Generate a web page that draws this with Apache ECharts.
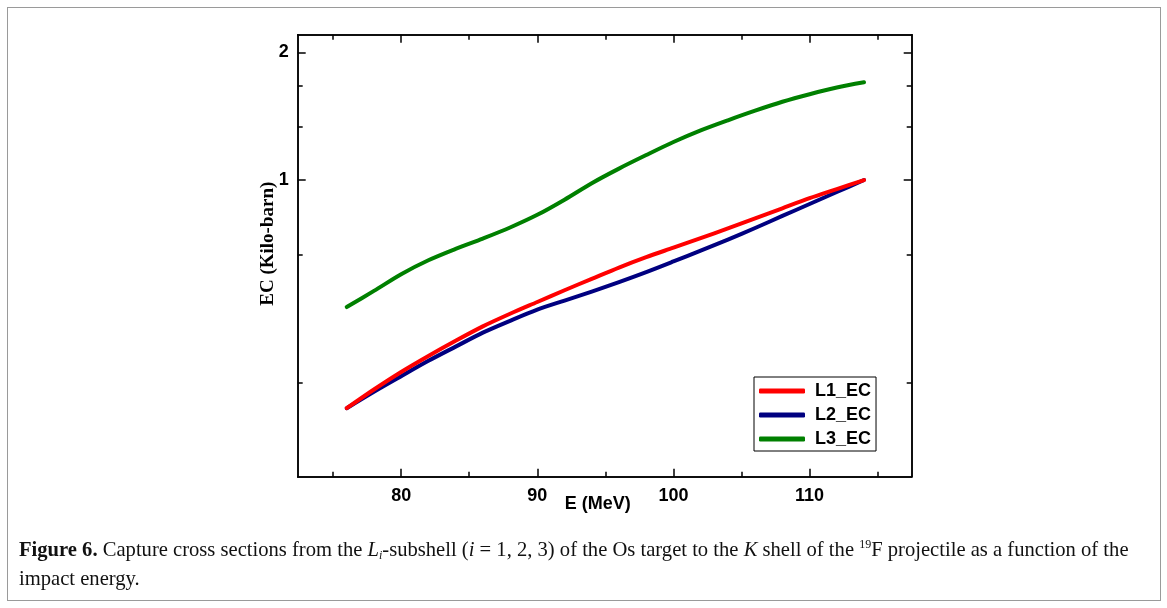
<!DOCTYPE html>
<html>
<head>
<meta charset="utf-8">
<script src="https://cdn.jsdelivr.net/npm/echarts@6.0.0/dist/echarts.min.js"></script>
<style>
    body { margin: 0; background: #fff; }
    #frame { position: absolute; left: 7px; top: 7px; width: 1152px; height: 592px; border: 1px solid #9a9a9a; }
    #chart { position: absolute; left: 0; top: 0; width: 1167px; height: 608px; }
    #caption { position: absolute; left: 19px; top: 535px; font-family: 'Liberation Serif', serif; font-size: 20.6px; line-height: 29px; color: #111; white-space: nowrap; }
    #caption sup { font-size: 12px; vertical-align: 8px; line-height: 0; }
    #caption sub { font-size: 12px; vertical-align: -3px; line-height: 0; }
</style>
</head>
<body>
<div id="frame"></div>
<div id="chart"></div>
<div id="caption"><b>Figure 6.</b> Capture cross sections from the <i>L</i><sub><i>i</i></sub>-subshell (<i>i</i> = 1, 2, 3) of the Os target to the <i>K</i> shell of the <sup>19</sup>F projectile as a function of the<br>impact energy.</div>
<script>
// E (MeV)
var energy = [76, 78, 80, 82, 84, 86, 88, 90, 92, 94, 96, 98, 100, 102, 104, 106, 108, 110, 112, 114];
// EC (Kilo-barn)
var l1EC = [0.290, 0.321, 0.353, 0.385, 0.418, 0.452, 0.484, 0.516, 0.550, 0.585, 0.622, 0.658, 0.693, 0.730, 0.769, 0.812, 0.858, 0.906, 0.952, 1.000];
var l2EC = [0.290, 0.317, 0.345, 0.375, 0.405, 0.437, 0.466, 0.495, 0.520, 0.546, 0.575, 0.607, 0.643, 0.682, 0.724, 0.771, 0.823, 0.878, 0.937, 1.000];
var l3EC = [0.502, 0.548, 0.600, 0.647, 0.688, 0.728, 0.773, 0.828, 0.899, 0.983, 1.064, 1.145, 1.229, 1.309, 1.383, 1.457, 1.529, 1.593, 1.652, 1.699];

var seriesNames = ['L1_EC', 'L2_EC', 'L3_EC'];
var seriesColors = ['#ff0000', '#000080', '#008000'];

// ticks
var xMajor = [80, 90, 100, 110];
var xMinor = [75, 85, 95, 105, 115];
var yMajor = [1, 2];
var yMinor = [0.3333, 0.6667, 1.3333, 1.6667];

var xMin = 72.4, xMax = 117.5;
var yMin = 0.2, yMax = 2.2;

var chart = echarts.init(document.getElementById('chart'));

function pairs(ys) {
    var out = [];
    for (var i = 0; i < energy.length; i++) {
        out.push([energy[i], ys[i]]);
    }
    return out;
}

var labelFont = {
    color: '#000',
    fontSize: 18,
    fontWeight: 'bold',
    fontFamily: 'Liberation Sans'
};

function makeX(position, ticks, len, withLabels) {
    return {
        type: 'value',
        position: position,
        min: xMin,
        max: xMax,
        splitLine: {show: false},
        axisLine: {show: true, onZero: false, lineStyle: {color: '#000', width: 1.5}},
        axisTick: {show: true, inside: true, length: len, customValues: ticks, lineStyle: {color: '#000', width: 1.5}},
        axisLabel: withLabels ? Object.assign({show: true, margin: 10, customValues: ticks}, labelFont) : {show: false}
    };
}

function makeY(position, ticks, len, withLabels) {
    return {
        type: 'log',
        logBase: 10,
        position: position,
        min: yMin,
        max: yMax,
        splitLine: {show: false},
        axisLine: {show: true, onZero: false, lineStyle: {color: '#000', width: 1.5}},
        axisTick: {show: true, inside: true, length: len, customValues: ticks, lineStyle: {color: '#000', width: 1.5}},
        axisLabel: withLabels ? Object.assign({show: true, margin: 9, customValues: ticks}, labelFont) : {show: false}
    };
}

var xAxes = [
    makeX('bottom', xMajor, 8, true),
    makeX('bottom', xMinor, 5, false),
    makeX('top', xMajor, 8, false),
    makeX('top', xMinor, 5, false)
];
xAxes[0].name = 'E (MeV)';
xAxes[0].nameLocation = 'middle';
xAxes[0].nameGap = 18;
xAxes[0].nameMoveOverlap = false;
xAxes[0].nameTextStyle = Object.assign({padding: [0, 14, 0, 0]}, labelFont);

var yAxes = [
    makeY('left', yMajor, 8, true),
    makeY('left', yMinor, 5, false),
    makeY('right', yMajor, 8, false),
    makeY('right', yMinor, 5, false)
];
yAxes[0].name = 'EC (Kilo-barn)';
yAxes[0].nameLocation = 'middle';
yAxes[0].nameGap = 20;
yAxes[0].nameMoveOverlap = false;
yAxes[0].nameTextStyle = {
    color: '#000',
    fontSize: 19,
    fontWeight: 'bold',
    fontFamily: 'Liberation Serif',
    padding: [0, 0, 0, 24]
};

var allData = [l1EC, l2EC, l3EC];
var series = [];
for (var s = 0; s < allData.length; s++) {
    series.push({
        name: seriesNames[s],
        type: 'line',
        xAxisIndex: 0,
        yAxisIndex: 0,
        smooth: 0.3,
        symbol: 'none',
        data: pairs(allData[s]),
        lineStyle: {color: seriesColors[s], width: 4, cap: 'round', join: 'round'},
        itemStyle: {color: seriesColors[s]},
        z: 3 - s
    });
}

var option = {
    animation: false,
    backgroundColor: 'transparent',
    grid: {
        left: 297.7,
        right: 255.3,
        top: 34.7,
        bottom: 131.3,
        containLabel: false
    },
    legend: {
        orient: 'vertical',
        left: 754,
        top: 377,
        data: seriesNames,
        icon: 'roundRect',
        itemWidth: 46,
        itemHeight: 5,
        itemGap: 4,
        padding: [4, 5, 2, 5],
        borderColor: '#000',
        borderWidth: 1,
        textStyle: Object.assign({lineHeight: 20, padding: [0, 0, 0, 5]}, labelFont)
    },
    xAxis: xAxes,
    yAxis: yAxes,
    series: series
};

chart.setOption(option);
</script>
</body>
</html>
